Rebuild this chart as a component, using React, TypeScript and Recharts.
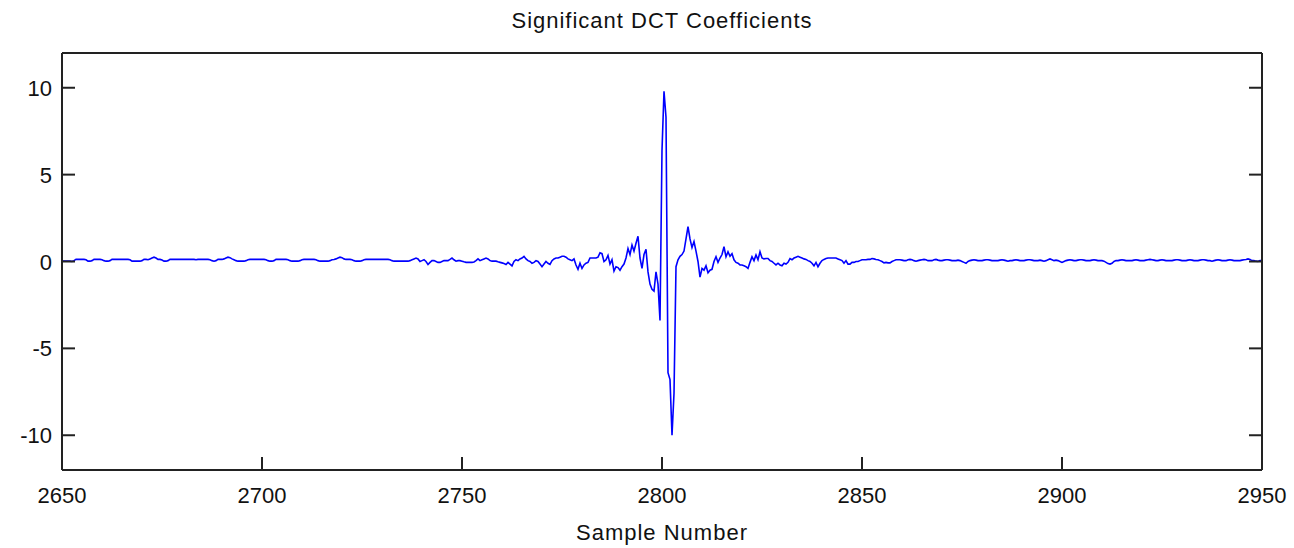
import React from 'react'
import { Line, LineChart, XAxis, YAxis } from 'recharts'

const WIDTH = 1294
const HEIGHT = 548
const PLOT = { left: 62, right: 1262, top: 53, bottom: 470 }
const TICK_LEN = 13
const AXIS_COLOR = '#222'
const FONT = '"Liberation Sans", Arial, sans-serif'

const title = 'Significant DCT Coefficients'
const xLabel = 'Sample Number'
const xTicks = [2650, 2700, 2750, 2800, 2850, 2900, 2950]
const yTicks = [-10, -5, 0, 5, 10]
const xStart = 2650
const xStep = 0.5

// 2650 .. 2749.5
const leftTail = [
  0.02, 0.02, 0.03, 0.03, 0.02, 0.0, 0.05, 0.12, 0.12, 0.12, 0.12, 0.12, 0.1, 0.02, 0.02, 0.05, 0.12, 0.12, 0.12, 0.12,
  0.1, 0.05, 0.02, 0.02, 0.05, 0.12, 0.12, 0.12, 0.12, 0.12, 0.12, 0.12, 0.12, 0.12, 0.1, 0.02, 0.02, 0.02, 0.02, 0.02,
  0.05, 0.12, 0.12, 0.1, 0.15, 0.2, 0.25, 0.2, 0.12, 0.12, 0.08, 0.02, 0.02, 0.05, 0.12, 0.12, 0.12, 0.12, 0.12, 0.12,
  0.12, 0.12, 0.12, 0.12, 0.12, 0.12, 0.12, 0.1, 0.12, 0.12, 0.12, 0.12, 0.12, 0.12, 0.1, 0.05, 0.02, 0.05, 0.12, 0.12,
  0.12, 0.15, 0.2, 0.25, 0.22, 0.15, 0.1, 0.05, 0.02, 0.02, 0.02, 0.02, 0.05, 0.1, 0.12, 0.12, 0.12, 0.12, 0.12, 0.12,
  0.12, 0.12, 0.1, 0.05, 0.02, 0.02, 0.05, 0.12, 0.12, 0.12, 0.12, 0.12, 0.12, 0.1, 0.05, 0.02, 0.02, 0.02, 0.02, 0.05,
  0.1, 0.12, 0.12, 0.12, 0.12, 0.12, 0.12, 0.1, 0.05, 0.02, 0.02, 0.02, 0.02, 0.02, 0.05, 0.1, 0.12, 0.15, 0.2, 0.25,
  0.22, 0.15, 0.12, 0.12, 0.12, 0.1, 0.05, 0.02, 0.02, 0.02, 0.05, 0.1, 0.12, 0.12, 0.12, 0.12, 0.12, 0.12, 0.12, 0.12,
  0.12, 0.12, 0.12, 0.12, 0.1, 0.05, 0.02, 0.02, 0.02, 0.02, 0.02, 0.02, 0.02, 0.02, 0.05, 0.1, 0.15, 0.2, 0.15, 0.0,
  0.05, 0.1, 0.0, -0.17, -0.05, 0.05, 0.05, 0.0, -0.05, -0.05, 0.0, 0.05, 0.05, 0.05, 0.12, 0.2, 0.1, 0.02, 0.05, 0.05,
]

// 2750 .. 2849.5
const burst = [
  0.02, -0.02, -0.05, -0.05, -0.05, -0.05, -0.03, 0.05, 0.15, 0.05, 0.1, 0.15, 0.2, 0.15, 0.05, 0.02, 0.02, 0.02, -0.02, -0.05,
  -0.08, -0.12, -0.17, -0.05, -0.15, -0.25, 0.0, 0.1, 0.05, 0.15, 0.2, 0.3, 0.15, 0.05, 0.0, -0.1, -0.05, 0.05, 0.0, -0.15,
  -0.3, -0.15, 0.0, -0.1, -0.17, 0.05, 0.15, 0.2, 0.2, 0.25, 0.3, 0.3, 0.25, 0.15, 0.1, 0.05, 0.15, -0.2, -0.45, -0.1,
  -0.4, -0.2, -0.1, -0.05, 0.2, 0.2, 0.2, 0.2, 0.25, 0.5, 0.45, 0.0, 0.1, 0.35, -0.15, 0.1, -0.55, -0.3, -0.35, -0.5,
  -0.3, -0.15, 0.2, 0.75, 0.4, 0.95, 0.6, 1.05, 1.45, 0.2, -0.4, 0.4, 0.7, -0.6, -1.3, -1.6, -1.7, -0.6, -1.3, -3.4,
  6.4, 9.8, 8.3, -6.4, -6.8, -10.0, -7.6, -0.3, 0.1, 0.3, 0.4, 0.6, 1.3, 2.0, 1.3, 0.8, 1.15, 0.6, 0.0, -0.9,
  -0.4, -0.5, -0.25, -0.65, -0.5, -0.45, 0.0, 0.27, -0.05, 0.2, 0.4, 0.85, 0.27, 0.56, 0.3, 0.45, 0.1, -0.05, -0.1, -0.2,
  -0.2, -0.25, -0.3, -0.4, -0.05, 0.27, 0.05, 0.38, 0.1, 0.56, 0.2, 0.15, 0.17, 0.17, 0.05, 0.0, -0.1, -0.2, -0.1, -0.2,
  -0.25, -0.1, -0.15, -0.05, 0.17, 0.1, 0.2, 0.25, 0.3, 0.25, 0.2, 0.15, 0.12, 0.05, 0.0, -0.1, -0.25, -0.05, -0.3, -0.1,
  0.05, 0.12, 0.17, 0.2, 0.2, 0.2, 0.2, 0.2, 0.15, 0.1, 0.05, -0.1, 0.05, -0.15, -0.15, -0.05, -0.05, 0.0, 0.0, 0.05,
]

// 2850 .. 2950
const rightTail = [
  0.1, 0.1, 0.1, 0.12, 0.12, 0.17, 0.15, 0.12, 0.1, 0.05, 0.0, -0.08, -0.05, -0.08, -0.08, 0.0, 0.05, 0.1, 0.1, 0.1,
  0.08, 0.05, 0.05, 0.1, 0.12, 0.1, 0.05, 0.02, 0.05, 0.08, 0.1, 0.12, 0.1, 0.05, 0.05, 0.05, 0.1, 0.12, 0.08, 0.05,
  0.05, 0.08, 0.1, 0.1, 0.08, 0.05, 0.05, 0.05, 0.08, 0.05, 0.0, -0.05, -0.1, 0.0, 0.05, 0.08, 0.1, 0.08, 0.05, 0.05,
  0.05, 0.08, 0.1, 0.1, 0.08, 0.05, 0.05, 0.05, 0.05, 0.08, 0.1, 0.08, 0.05, 0.02, 0.05, 0.05, 0.08, 0.1, 0.08, 0.05,
  0.05, 0.05, 0.08, 0.1, 0.1, 0.08, 0.05, 0.05, 0.05, 0.08, 0.05, 0.02, 0.05, 0.1, 0.15, 0.1, 0.05, 0.08, 0.05, 0.0,
  -0.05, 0.0, 0.05, 0.08, 0.1, 0.08, 0.05, 0.05, 0.08, 0.1, 0.1, 0.08, 0.05, 0.05, 0.05, 0.08, 0.1, 0.08, 0.05, 0.05,
  0.05, 0.02, -0.05, -0.12, -0.15, -0.1, 0.0, 0.05, 0.05, 0.08, 0.1, 0.08, 0.05, 0.05, 0.05, 0.05, 0.08, 0.1, 0.08, 0.05,
  0.05, 0.05, 0.08, 0.1, 0.12, 0.1, 0.08, 0.05, 0.05, 0.08, 0.1, 0.08, 0.05, 0.05, 0.05, 0.05, 0.08, 0.1, 0.1, 0.08,
  0.05, 0.05, 0.05, 0.08, 0.1, 0.08, 0.05, 0.05, 0.05, 0.08, 0.1, 0.1, 0.08, 0.05, 0.05, 0.02, 0.05, 0.08, 0.1, 0.08,
  0.05, 0.05, 0.05, 0.08, 0.1, 0.08, 0.05, 0.05, 0.05, 0.05, 0.08, 0.1, 0.12, 0.15, 0.12, 0.05, 0.05, 0.02, 0.0, 0.05,
  0.05,
]

const coefficients = [...leftTail, ...burst, ...rightTail]
const data = coefficients.map((value, i) => ({ sample: xStart + i * xStep, value }))

const textStyle = { fontFamily: FONT, fontSize: 22, fill: '#111' }

function BottomTick({ x, payload }: any) {
  return (
    <g>
      <line x1={x} x2={x} y1={PLOT.bottom} y2={PLOT.bottom - TICK_LEN} stroke={AXIS_COLOR} strokeWidth={2} />
      <text x={x} y={503} textAnchor="middle" {...textStyle}>
        {payload.value}
      </text>
    </g>
  )
}

function TopTick({ x }: any) {
  return <line x1={x} x2={x} y1={PLOT.top} y2={PLOT.top + TICK_LEN} stroke={AXIS_COLOR} strokeWidth={2} />
}

function LeftTick({ y, payload }: any) {
  return (
    <g>
      <line x1={PLOT.left} x2={PLOT.left + TICK_LEN} y1={y} y2={y} stroke={AXIS_COLOR} strokeWidth={2} />
      <text x={52} y={y + 8} textAnchor="end" {...textStyle}>
        {payload.value}
      </text>
    </g>
  )
}

function RightTick({ y }: any) {
  return <line x1={PLOT.right} x2={PLOT.right - TICK_LEN} y1={y} y2={y} stroke={AXIS_COLOR} strokeWidth={2} />
}

export default function App() {
  const axisLine = { stroke: AXIS_COLOR, strokeWidth: 2 }
  return (
    <div style={{ position: 'absolute', left: 0, top: 0, width: WIDTH, height: HEIGHT, background: '#fff' }}>
      <LineChart width={WIDTH} height={HEIGHT} data={data} margin={{ top: 0, right: 0, bottom: 0, left: 0 }}>
        <XAxis
          dataKey="sample"
          type="number"
          domain={[2650, 2950]}
          ticks={xTicks}
          interval={0}
          height={HEIGHT - PLOT.bottom}
          axisLine={axisLine}
          tickLine={false}
          tick={<BottomTick />}
          allowDataOverflow
        />
        <XAxis
          xAxisId="top"
          orientation="top"
          type="number"
          domain={[2650, 2950]}
          ticks={xTicks}
          interval={0}
          height={PLOT.top}
          axisLine={axisLine}
          tickLine={false}
          tick={<TopTick />}
          allowDataOverflow
        />
        <YAxis
          type="number"
          domain={[-12, 12]}
          ticks={yTicks}
          interval={0}
          width={PLOT.left}
          axisLine={axisLine}
          tickLine={false}
          tick={<LeftTick />}
          allowDataOverflow
        />
        <YAxis
          yAxisId="right"
          orientation="right"
          type="number"
          domain={[-12, 12]}
          ticks={yTicks}
          interval={0}
          width={WIDTH - PLOT.right}
          axisLine={axisLine}
          tickLine={false}
          tick={<RightTick />}
          allowDataOverflow
        />
        <Line
          type="linear"
          dataKey="value"
          stroke="#0000ff"
          strokeWidth={1.6}
          dot={false}
          activeDot={false}
          isAnimationActive={false}
        />
      </LineChart>
      <svg
        width={WIDTH}
        height={HEIGHT}
        style={{ position: 'absolute', left: 0, top: 0, pointerEvents: 'none' }}
      >
        <text x={662} y={28} textAnchor="middle" letterSpacing={1} {...textStyle}>
          {title}
        </text>
        <text x={662} y={540} textAnchor="middle" letterSpacing={1} {...textStyle}>
          {xLabel}
        </text>
      </svg>
    </div>
  )
}
